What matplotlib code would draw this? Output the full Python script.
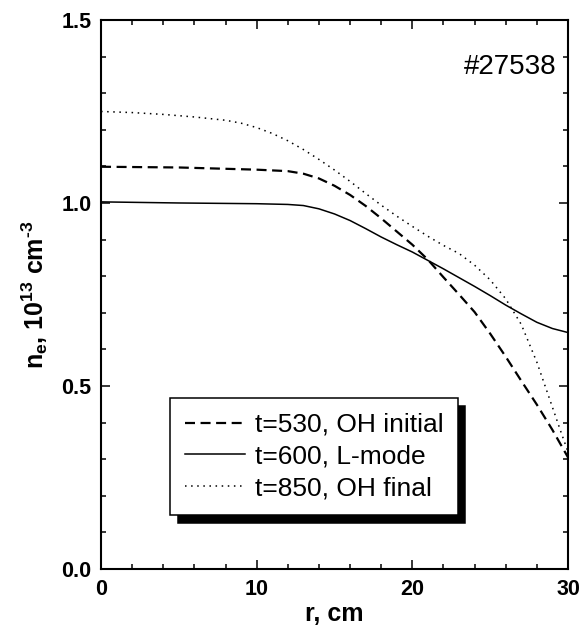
import numpy as np
import matplotlib
matplotlib.use('Agg')
import matplotlib.pyplot as plt
from matplotlib.ticker import MultipleLocator, FormatStrFormatter

plt.rcParams['font.family'] = ['Liberation Sans', 'DejaVu Sans']
plt.rcParams['mathtext.fontset'] = 'custom'
plt.rcParams['mathtext.bf'] = 'Liberation Sans:bold'
plt.rcParams['mathtext.rm'] = 'Liberation Sans:bold'
plt.rcParams['mathtext.default'] = 'bf'

# t=530, OH initial (dashed)
r_530 = [0, 5, 10, 12, 13, 14, 15, 16, 17, 18, 19, 20, 21, 22, 23, 24, 25, 26, 27, 28, 29, 30]
ne_530 = [1.099, 1.097, 1.091, 1.087, 1.080, 1.067, 1.047, 1.022, 0.992, 0.958, 0.922, 0.886,
          0.845, 0.797, 0.750, 0.702, 0.643, 0.580, 0.514, 0.449, 0.380, 0.305]

# t=600, L-mode (solid)
r_600 = [0, 5, 10, 12, 13, 14, 15, 16, 17, 18, 19, 20, 21, 22, 23, 24, 25, 26, 27, 28, 29, 30]
ne_600 = [1.003, 1.000, 0.998, 0.996, 0.993, 0.984, 0.970, 0.952, 0.930, 0.907, 0.886, 0.866,
          0.843, 0.820, 0.796, 0.772, 0.747, 0.721, 0.697, 0.674, 0.657, 0.646]

# t=850, OH final (dotted)
r_850 = [0, 2, 4, 6, 8, 9, 10, 11, 12, 13, 14, 15, 16, 17, 18, 19, 20, 21, 22, 23, 24, 25,
         26, 27, 28, 29, 29.5, 30]
ne_850 = [1.250, 1.247, 1.242, 1.235, 1.226, 1.218, 1.206, 1.190, 1.170, 1.146, 1.119, 1.090,
          1.059, 1.026, 0.994, 0.964, 0.936, 0.909, 0.884, 0.862, 0.830, 0.790, 0.738, 0.668,
          0.565, 0.442, 0.380, 0.320]

labels = ['t=530, OH initial', 't=600, L-mode', 't=850, OH final']

fig = plt.figure(figsize=(5.84, 6.32), dpi=100)
ax = fig.add_axes([0.173, 0.0997, 0.7996, 0.8687])

ax.plot(r_530, ne_530, color='black', lw=1.6, linestyle=(0, (4.5, 2.5)), label=labels[0])
ax.plot(r_600, ne_600, color='black', lw=1.1, linestyle='-', label=labels[1])
ax.plot(r_850, ne_850, color='black', lw=1.1, linestyle=(0, (1, 3)), label=labels[2])

ax.set_xlim(0, 30)
ax.set_ylim(0, 1.5)
ax.xaxis.set_major_locator(MultipleLocator(10))
ax.xaxis.set_minor_locator(MultipleLocator(2))
ax.yaxis.set_major_locator(MultipleLocator(0.5))
ax.yaxis.set_minor_locator(MultipleLocator(0.1))
ax.xaxis.set_major_formatter(FormatStrFormatter('%d'))
ax.yaxis.set_major_formatter(FormatStrFormatter('%.1f'))

ax.tick_params(which='both', direction='in', top=True, right=True, width=1.1)
ax.tick_params(which='major', length=6.5, pad=7, labelsize=15.5)
ax.tick_params(which='minor', length=3.6)
for lab in ax.get_xticklabels() + ax.get_yticklabels():
    lab.set_fontweight('bold')
for sp in ax.spines.values():
    sp.set_linewidth(1.5)

ax.set_xlabel('r, cm', fontsize=18, fontweight='bold', labelpad=2)
ax.set_ylabel('n$_\\mathbf{e}$, 10$^\\mathbf{13}$ cm$^\\mathbf{\u20103}$', fontsize=18,
              fontweight='bold', labelpad=8)

ax.text(0.976, 0.915, '#27538', transform=ax.transAxes, fontsize=20, ha='right', va='center')

leg = ax.legend(loc='upper left', bbox_to_anchor=(0.148, 0.311), borderaxespad=0,
                fontsize=19, frameon=True, fancybox=False,
                shadow={'ox': 5.5, 'oy': -5.5, 'color': 'black', 'alpha': 1},
                handlelength=2.3, handletextpad=0.35, borderpad=0.55, labelspacing=0.3)
leg.get_frame().set_edgecolor('black')
leg.get_frame().set_linewidth(1.1)

fig.savefig('out.png', dpi=100)
